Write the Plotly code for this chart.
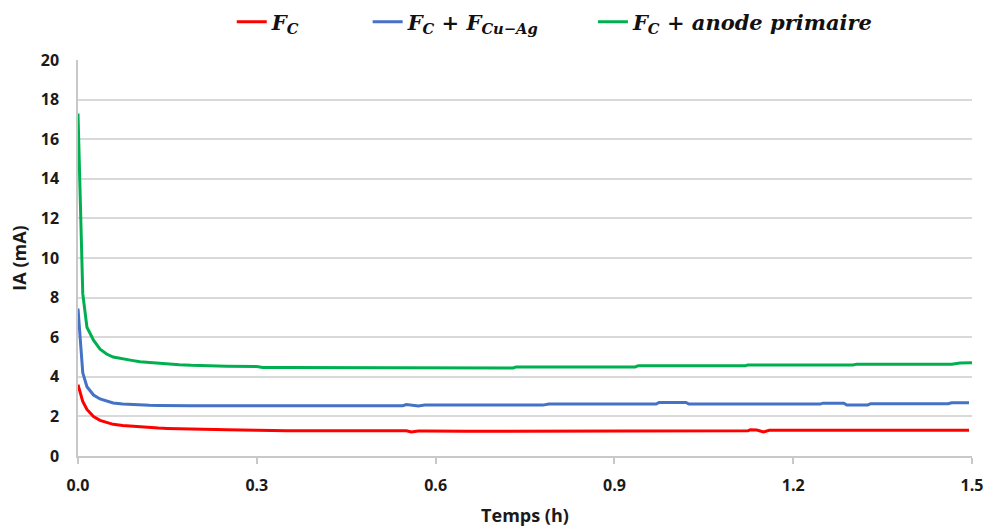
import plotly.graph_objects as go

# Time (h)
temps = [0, 0.008, 0.015, 0.026, 0.037, 0.048, 0.059, 0.075, 0.09, 0.104, 0.12, 0.135,
         0.15, 0.17, 0.19, 0.21, 0.25, 0.3, 0.31, 0.35, 0.4, 0.45, 0.5, 0.545, 0.551,
         0.559, 0.571, 0.582, 0.6, 0.65, 0.7, 0.73, 0.735, 0.78, 0.79, 0.85, 0.9, 0.935,
         0.94, 0.97, 0.975, 1.02, 1.025, 1.08, 1.12, 1.124, 1.128, 1.139, 1.15, 1.16,
         1.2, 1.245, 1.25, 1.285, 1.29, 1.3, 1.307, 1.325, 1.33, 1.4, 1.46, 1.466, 1.48,
         1.495, 1.5]

ia_fc = [3.6, 2.75, 2.35, 1.99, 1.8, 1.68, 1.6, 1.54, 1.5, 1.47, 1.44, 1.41,
         1.39, 1.37, 1.35, 1.33, 1.32, 1.3, 1.29, 1.28, 1.28, 1.28, 1.28, 1.28, 1.27,
         1.21, 1.26, 1.26, 1.25, 1.25, 1.25, 1.25, 1.25, 1.25, 1.25, 1.25, 1.25, 1.25,
         1.25, 1.25, 1.25, 1.25, 1.25, 1.25, 1.25, 1.27, 1.32, 1.31, 1.22, 1.3,
         1.3, 1.3, 1.3, 1.3, 1.3, 1.3, 1.3, 1.3, 1.3, 1.3, 1.3, 1.3, 1.3,
         1.3, None]

ia_fc_cuag = [7.45, 4.2, 3.5, 3.08, 2.88, 2.76, 2.68, 2.63, 2.6, 2.58, 2.56, 2.55,
              2.54, 2.54, 2.54, 2.54, 2.54, 2.54, 2.54, 2.54, 2.54, 2.54, 2.54, 2.54, 2.6,
              2.57, 2.52, 2.57, 2.57, 2.57, 2.57, 2.57, 2.57, 2.57, 2.62, 2.62, 2.62, 2.62,
              2.62, 2.62, 2.7, 2.7, 2.62, 2.62, 2.62, 2.62, 2.62, 2.62, 2.62, 2.62,
              2.62, 2.62, 2.67, 2.67, 2.58, 2.58, 2.58, 2.58, 2.64, 2.64, 2.64, 2.69, 2.69,
              2.69, None]

ia_fc_anode = [17.3, 8.2, 6.5, 5.85, 5.4, 5.15, 5.0, 4.9, 4.83, 4.76, 4.72, 4.68,
               4.64, 4.61, 4.58, 4.56, 4.53, 4.52, 4.47, 4.47, 4.47, 4.47, 4.47, 4.47, 4.47,
               4.47, 4.47, 4.47, 4.46, 4.45, 4.45, 4.45, 4.5, 4.5, 4.5, 4.5, 4.5, 4.5,
               4.56, 4.56, 4.56, 4.56, 4.56, 4.56, 4.56, 4.6, 4.6, 4.6, 4.6, 4.6,
               4.6, 4.6, 4.6, 4.6, 4.6, 4.6, 4.64, 4.64, 4.64, 4.64, 4.64, 4.64, 4.7,
               4.7, 4.71]

x_ticks = [0, 0.3, 0.6, 0.9, 1.2, 1.5]
x_tick_labels = ["0.0", "0.3", "0.6", "0.9", "1.2", "1.5"]
y_ticks = [0, 2, 4, 6, 8, 10, 12, 14, 16, 18, 20]

NB = "\u00a0"
PLUS = NB + "+" + NB
names = [
    "<b><i>F</i><sub><i>C</i></sub></b>",
    "<b><i>F</i><sub><i>C</i></sub>" + PLUS + "<i>F</i><sub><i>Cu\u2212Ag</i></sub></b>",
    "<b><i>F</i><sub><i>C</i></sub>" + PLUS + "<i>anode" + NB + "primaire</i></b>",
]
colors = ["#FF0000", "#4472C4", "#00B050"]
series = [ia_fc, ia_fc_cuag, ia_fc_anode]
legend_ids = ["legend", "legend2", "legend3"]
legend_x = [0.172, 0.324, 0.576]

fig = go.Figure()
for nm, col, ys, lg in zip(names, colors, series, legend_ids):
    fig.add_trace(go.Scatter(x=temps, y=ys, mode="lines", name=nm, legend=lg,
                             line=dict(color=col, width=3), connectgaps=False))

tick_font = dict(family="Open Sans, Lato, sans-serif", size=16, color="#1a1a1a", weight="bold")
title_font = dict(family="Open Sans, Lato, sans-serif", size=18, color="#1a1a1a", weight="bold")
leg_font = dict(family="DejaVu Serif, Liberation Serif, serif", size=21, color="#111111")

legends = {}
for lg, lx in zip(legend_ids, legend_x):
    legends[lg] = dict(orientation="h", x=lx, xanchor="left", y=1.096, yanchor="middle",
                       font=leg_font, itemwidth=30, bgcolor="rgba(0,0,0,0)")

fig.update_layout(
    width=987, height=527,
    margin=dict(l=78, r=15, t=60, b=71, autoexpand=False),
    paper_bgcolor="white", plot_bgcolor="white",
    showlegend=True,
    **legends,
    xaxis=dict(range=[0, 1.5], tickvals=x_ticks, ticktext=x_tick_labels, automargin=False,
               showgrid=False, zeroline=False, showline=True, linecolor="#c8c8c8", linewidth=1.5,
               ticks="outside", ticklen=6, tickcolor="#c8c8c8", tickwidth=1.5,
               tickfont=tick_font, ticklabelstandoff=8,
               title=dict(text="Temps (h)", font=title_font, standoff=15)),
    yaxis=dict(range=[0, 20], tickvals=y_ticks, automargin=False,
               showgrid=True, gridcolor="#d9d9d9", gridwidth=1.5, zeroline=False,
               showline=True, linecolor="#c8c8c8", linewidth=1.5,
               ticks="", tickfont=tick_font, ticklabelstandoff=14,
               title=dict(text="IA (mA)", font=title_font, standoff=9)),
)

fig.write_html("out.html", config={"displayModeBar": False},
               post_script="document.body.style.margin='0px';document.body.style.overflow='hidden';")
